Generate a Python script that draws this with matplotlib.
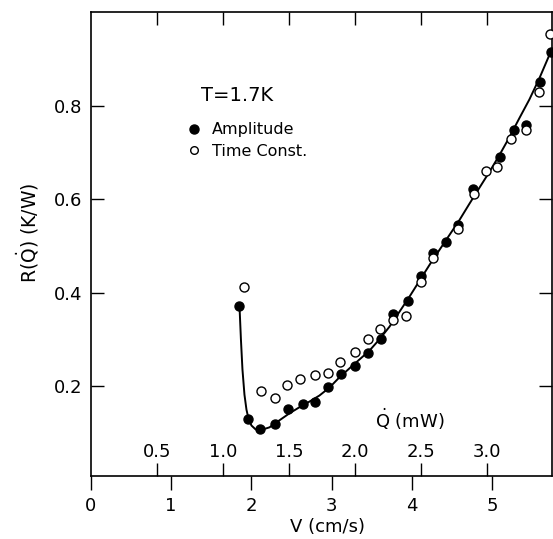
import matplotlib
matplotlib.use("Agg")
import matplotlib.pyplot as plt

plt.rcParams['font.family'] = ['DejaVu Sans']
plt.rcParams['mathtext.default'] = 'regular'

# ---- data ----
amp_v = [1.85, 1.96, 2.11, 2.30, 2.46, 2.64, 2.79, 2.95, 3.12, 3.29, 3.45, 3.62,
         3.77, 3.95, 4.11, 4.27, 4.43, 4.58, 4.77, 5.10, 5.27, 5.42, 5.60, 5.74]
amp_r = [0.372, 0.129, 0.108, 0.120, 0.152, 0.161, 0.167, 0.199, 0.227, 0.244, 0.272, 0.300,
         0.355, 0.383, 0.436, 0.485, 0.508, 0.545, 0.621, 0.690, 0.747, 0.759, 0.850, 0.915]

tc_v = [1.91, 2.12, 2.29, 2.45, 2.61, 2.79, 2.95, 3.10, 3.29, 3.45, 3.61, 3.77,
        3.93, 4.11, 4.27, 4.58, 4.78, 4.93, 5.07, 5.24, 5.42, 5.59, 5.73]
tc_r = [0.412, 0.189, 0.174, 0.202, 0.216, 0.223, 0.229, 0.251, 0.274, 0.300, 0.323, 0.342,
        0.351, 0.423, 0.474, 0.536, 0.611, 0.660, 0.668, 0.728, 0.747, 0.828, 0.954]

fit_v = [1.852, 1.870, 1.889, 1.914, 1.939, 1.964, 2.001, 2.051, 2.114, 2.226, 2.350, 2.475,
         2.600, 2.724, 2.849, 2.974, 3.099, 3.223, 3.348, 3.473, 3.597, 3.722, 3.847, 3.971,
         4.096, 4.221, 4.345, 4.470, 4.595, 4.720, 4.844, 4.969, 5.094, 5.218, 5.343, 5.468,
         5.592, 5.742]
fit_r = [0.372, 0.300, 0.236, 0.182, 0.150, 0.131, 0.116, 0.108, 0.106, 0.112, 0.127, 0.142,
         0.155, 0.167, 0.180, 0.197, 0.219, 0.238, 0.257, 0.276, 0.300, 0.327, 0.359, 0.391,
         0.425, 0.459, 0.491, 0.523, 0.555, 0.590, 0.624, 0.658, 0.694, 0.732, 0.773, 0.813,
         0.858, 0.918]

v_ticks = [0, 1, 2, 3, 4, 5]
v_labels = ['0', '1', '2', '3', '4', '5']
q_ticks = [0.5, 1.0, 1.5, 2.0, 2.5, 3.0]
q_labels = ['0.5', '1.0', '1.5', '2.0', '2.5', '3.0']
r_ticks = [0.2, 0.4, 0.6, 0.8]
r_labels = ['0.2', '0.4', '0.6', '0.8']

V_MAX = 5.75
Q_MAX = 3.49

fig = plt.figure(figsize=(5.53, 5.39), dpi=100)
ax = fig.add_axes([91/553, 1-476/539, (552-91)/553, (476-12)/539])

ax.plot(fit_v, fit_r, color='black', lw=1.4, zorder=2)
ax.plot(amp_v, amp_r, 'o', color='black', ms=6.5, zorder=3, label='Amplitude')
ax.plot(tc_v, tc_r, 'o', mfc='white', mec='black', mew=1.0, ms=6.5, zorder=4,
        label='Time Const.')

ax.set_xlim(0, V_MAX)
ax.set_ylim(0.008, 1.0)
ax.set_xticks(v_ticks)
ax.set_xticklabels(v_labels)
ax.set_yticks(r_ticks)
ax.set_yticklabels(r_labels)
ax.tick_params(axis='x', direction='out', length=10, width=1, labelsize=13,
               pad=5, top=False)
ax.tick_params(axis='y', direction='in', length=9.5, width=1, labelsize=13,
               pad=6.5, left=True, right=True)
for s in ax.spines.values():
    s.set_linewidth(1.2)

ax.set_xlabel('V (cm/s)', fontsize=13)
ax.xaxis.set_label_coords(0.514, -0.09)
ax.set_ylabel(r'R($\dot{Q}$) (K/W)', fontsize=13.5, va='center')
ax.yaxis.set_label_coords(-0.137, 0.524)

ax2 = ax.twiny()
ax2.set_xlim(0, Q_MAX)
ax2.set_xticks(q_ticks)
ax2.set_xticklabels(q_labels)
ax2.xaxis.set_ticks_position('both')
ax2.tick_params(axis='x', direction='in', length=9.5, width=1, labelsize=13,
                labelbottom=True, labeltop=False, pad=-24)
for s in ax2.spines.values():
    s.set_visible(False)

ax.text(0.692, 0.104, r'$\dot{Q}$ (mW)', transform=ax.transAxes, fontsize=13,
        ha='center', va='baseline')
ax.text(0.316, 0.821, 'T=1.7K', transform=ax.transAxes, fontsize=14,
        ha='center', va='center')

leg = ax.legend(loc='upper left', bbox_to_anchor=(0.214, 0.762), frameon=False,
                fontsize=11.5, handlelength=0.6, handletextpad=0.8,
                labelspacing=0.4, borderaxespad=0, borderpad=0)
leg.legend_handles[1].set_markersize(5.5)

fig.savefig('out.png', dpi=100)
